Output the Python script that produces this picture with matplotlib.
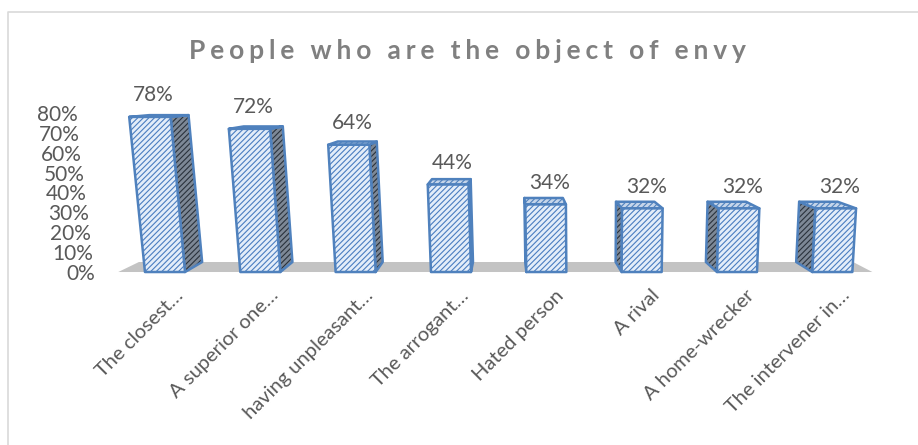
import matplotlib
matplotlib.use("Agg")
import matplotlib.pyplot as plt
import matplotlib.transforms as mtransforms
from matplotlib.patches import Polygon
from matplotlib.lines import Line2D

TITLE = "People who are the object of envy"
categories = ["The closest\u2026", "A superior one\u2026", "having unpleasant\u2026",
              "The arrogant\u2026", "Hated person", "A rival", "A home-wrecker",
              "The intervener in\u2026"]
values = [0.78, 0.72, 0.64, 0.44, 0.34, 0.32, 0.32, 0.32]
yticks = [0, 0.1, 0.2, 0.3, 0.4, 0.5, 0.6, 0.7, 0.8]

plt.rcParams['font.family'] = ['Lato', 'DejaVu Sans']
plt.rcParams['hatch.linewidth'] = 0.8

TEXT = '#595959'
EDGE = '#4f81bd'

# fake 3d: depth recedes toward (XV, YV), tall bars lean away from XL
XV, YV = 3.6, 0.95
XL = 4.5
DEPTH = 0.053
LEAN = 0.045
WIDTH = 0.42


def proj(x, y, z):
    x1 = x - LEAN * (XL - x) * y
    return (x1 + DEPTH * z * (XV - x1), y + DEPTH * z * (YV - y))


def face(ax, pts, fc, hc, hatch, z):
    ax.add_patch(Polygon(pts, closed=True, facecolor=fc, edgecolor=hc,
                         hatch=hatch, linewidth=0, zorder=z))
    ax.add_patch(Polygon(pts, closed=True, fill=False, edgecolor=EDGE,
                         linewidth=1.8, joinstyle='round', zorder=z + 0.5))


fig = plt.figure(figsize=(9.18, 4.45), dpi=100)
ax = fig.add_axes([0.1089, 0.3798, 0.8715, 0.42])
ax.set_xlim(-0.682, 7.71)
ax.set_ylim(-0.02, 0.92)
for s in ax.spines.values():
    s.set_visible(False)

# floor
fl, fr = -0.49, 7.42
floor = [proj(fl, 0, 0), proj(fr, 0, 0), proj(fr, 0, 1), proj(fl, 0, 1)]
ax.add_patch(Polygon(floor, closed=True, facecolor='#c3c3c3', edgecolor='none', zorder=1))

for i, h in enumerate(values):
    xl, xr = i - WIDTH / 2, i + WIDTH / 2
    xs = xr if i < XV else xl
    side = [proj(xs, 0, 0), proj(xs, h, 0), proj(xs, h, 1), proj(xs, 0, 1)]
    top = [proj(xl, h, 0), proj(xr, h, 0), proj(xr, h, 1), proj(xl, h, 1)]
    front = [proj(xl, 0, 0), proj(xr, 0, 0), proj(xr, h, 0), proj(xl, h, 0)]
    face(ax, side, '#7d8896', '#2a323c', '//////', 2)
    face(ax, top, '#c5d5ea', EDGE, '//////', 3)
    face(ax, front, '#e3edf9', '#4a7dc0', '//////', 4)
    cx, cy = proj(i, h, 0)
    ax.text(cx + 0.04, h + 0.11, f"{round(h * 100)}%", ha='center', va='center',
            fontsize=15, color=TEXT)

ax.set_yticks(yticks)
ax.set_yticklabels([f"{round(v * 100)}%" for v in yticks], fontsize=15, color=TEXT)
ax.tick_params(axis='y', length=0, pad=0)
for v, lab in zip(yticks, ax.get_yticklabels()):
    off = mtransforms.ScaledTranslation(-(5 + v / 0.8 * 17) / 100, 0, fig.dpi_scale_trans)
    lab.set_transform(lab.get_transform() + off)

ax.set_xticks(range(len(categories)))
ax.set_xticklabels(categories, rotation=45, ha='right', va='center',
                   rotation_mode='anchor', fontsize=14.5, color=TEXT)
ax.tick_params(axis='x', length=0, pad=12)
for lab in ax.get_xticklabels():
    off = mtransforms.ScaledTranslation(15 / 100, 0, fig.dpi_scale_trans)
    lab.set_transform(lab.get_transform() + off)

# letter-spaced title
fig.text(467 / 918, 1 - 51 / 445, '\u2009\u200a'.join(TITLE), ha='center', va='center',
         fontsize=19, fontweight='bold', color='#808080')

# chart frame, left and top edges
fig.add_artist(Line2D([8 / 918, 8 / 918, 1], [0, 1 - 12 / 445, 1 - 12 / 445],
                      transform=fig.transFigure, color='#d9d9d9', linewidth=1.2))

fig.savefig('out.png', dpi=100)
